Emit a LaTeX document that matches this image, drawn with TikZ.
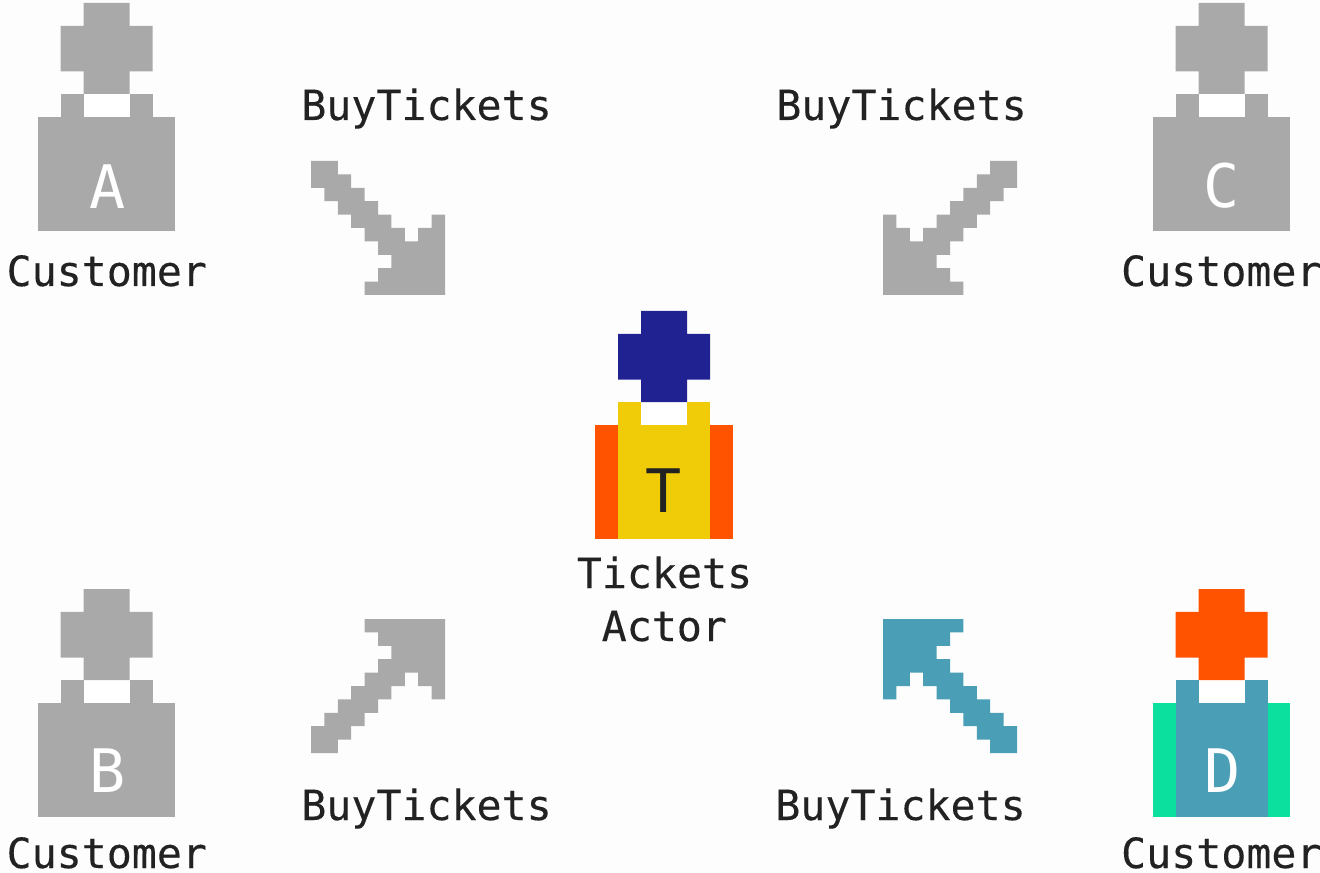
\documentclass[tikz,border=0pt]{standalone}
\usepackage{fontspec}
\setmainfont{DejaVu Sans Mono}
\definecolor{bgc}{HTML}{FDFDFD}
\definecolor{grayc}{HTML}{A9A9A9}
\definecolor{inkc}{HTML}{222222}
\definecolor{navyc}{HTML}{1F2290}
\definecolor{yellowc}{HTML}{EFCB08}
\definecolor{orangec}{HTML}{FF5300}
\definecolor{tealc}{HTML}{4A9EB5}
\definecolor{greenc}{HTML}{0BE09F}
\tikzset{
  caption/.style={text=inkc,font=\addfontfeature{FakeBold=0.25}\fontsize{31.2}{31.2}\selectfont,anchor=base,inner sep=0pt},
  badge/.style={font=\fontsize{45}{45}\selectfont,anchor=base,inner sep=0pt},
  pixel/.style={draw=none},
}
% #1 centre x, #2 top y, #3 arm, #4 body, #5 head
\newcommand{\personfig}[5]{%
  \begin{scope}[shift={(#1,#2)}]
    \fill[pixel,#3] (-68.6,114) rectangle (68.6,228);
    \fill[pixel,#4] (-46,91) rectangle (46,228);
    \fill[pixel,white] (-23,91) rectangle (23,114);
    \fill[pixel,#5] (-23,0) -- (23,0) -- (23,22.8) -- (46,22.8) -- (46,68.5) -- (23,68.5)
      -- (23,91) -- (-23,91) -- (-23,68.5) -- (-46,68.5) -- (-46,22.8) -- (-23,22.8) -- cycle;
  \end{scope}}
% #1 tail x, #2 tail y, #3 x direction, #4 y direction, #5 colour
\newcommand{\arrowfig}[5]{%
  \fill[pixel,#5,shift={(#1,#2)},xscale=#3*13.4,yscale=#4*13.4]
    (0,0)--(2,0)--(2,1)--(3,1)--(3,2)--(4,2)--(4,3)--(5,3)--(5,4)--(6,4)--(6,5)--(7,5)--(7,6)
    --(8,6)--(8,5)--(9,5)--(9,4)--(10,4)--(10,10)--(4,10)--(4,9)--(5,9)--(5,8)--(6,8)--(6,7)
    --(5,7)--(5,6)--(4,6)--(4,5)--(3,5)--(3,4)--(2,4)--(2,3)--(1,3)--(1,2)--(0,2)--cycle;}
\begin{document}
\begin{tikzpicture}[x=0.75pt,y=-0.75pt]
  \useasboundingbox (0,0) rectangle (1320,873);
  \fill[bgc] (0,0) rectangle (1320,873);
  \personfig{106.5}{3}{grayc}{grayc}{grayc}
  \personfig{1221.5}{3}{grayc}{grayc}{grayc}
  \personfig{106.5}{589}{grayc}{grayc}{grayc}
  \personfig{1221.5}{589}{greenc}{tealc}{orangec}
  \personfig{664}{311}{orangec}{yellowc}{navyc}
  \node[badge,text=white] (letterA) at (107.3,208.5) {A};
  \node[badge,text=white] (letterC) at (1221.5,208) {C};
  \node[badge,text=white] (letterB) at (107.8,792) {B};
  \node[badge,text=white] (letterD) at (1222.3,792) {D};
  \node[badge,text=inkc] (letterT) at (664,512) {T};
  \arrowfig{311}{161}{1}{1}{grayc}
  \arrowfig{1017}{161}{-1}{1}{grayc}
  \arrowfig{311}{753}{1}{-1}{grayc}
  \arrowfig{1017}{753}{-1}{-1}{tealc}
  \node[caption] (custA) at (106.8,286) {Customer};
  \node[caption] (custC) at (1221.3,286) {Customer};
  \node[caption] (custB) at (106.8,868) {Customer};
  \node[caption] (custD) at (1221.3,868) {Customer};
  \node[caption] (buyA) at (426.5,120) {BuyTickets};
  \node[caption] (buyC) at (901.5,120) {BuyTickets};
  \node[caption] (buyB) at (426.5,820) {BuyTickets};
  \node[caption] (buyD) at (900.5,820) {BuyTickets};
  \node[caption] (ticketsT) at (664.5,588) {Tickets};
  \node[caption] (actorT) at (664.3,641) {Actor};
\end{tikzpicture}
\end{document}
